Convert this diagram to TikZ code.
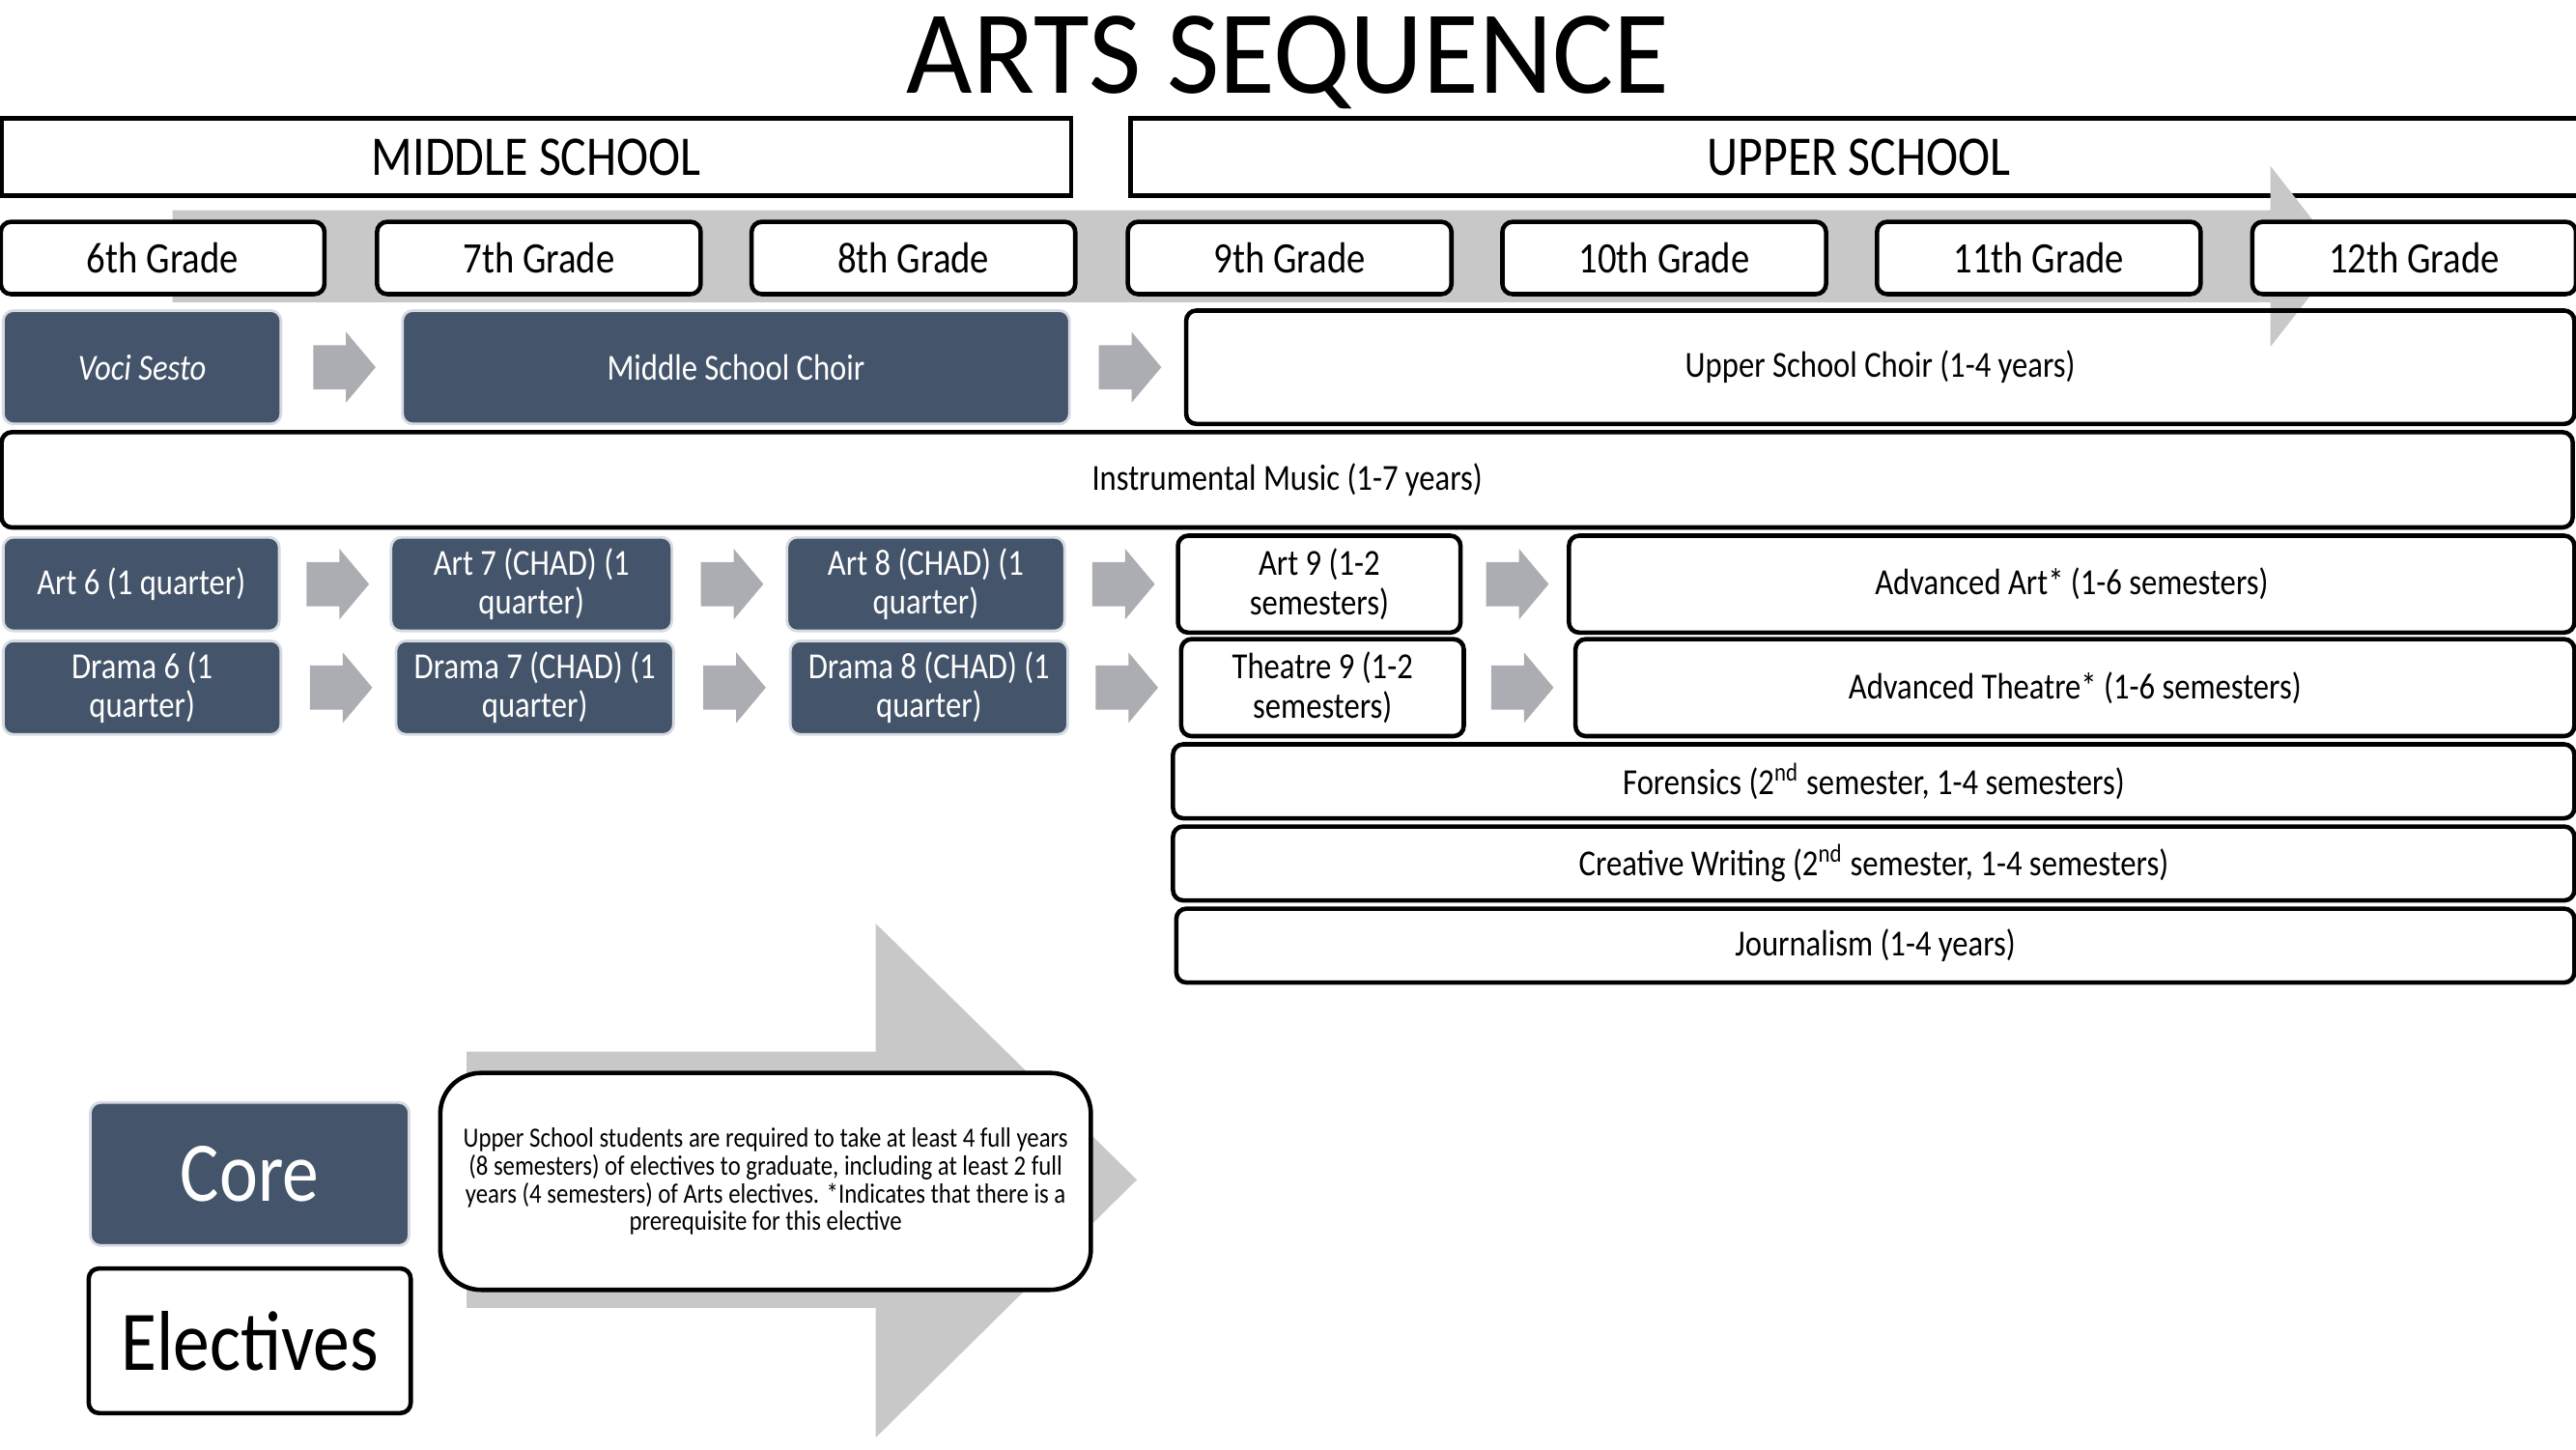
\documentclass[tikz,border=0pt]{standalone}
\usepackage{fontspec}
\setmainfont{Carlito}[FakeStretch=0.86]
\newfontfamily\titlefont{Carlito}[FakeStretch=0.96]
\usepackage{tikz}
\usepackage{xcolor}
\usetikzlibrary{shapes.arrows,calc}
\definecolor{coreblue}{HTML}{44546A}
\definecolor{coreedge}{HTML}{D6DBE3}
\definecolor{chevgray}{HTML}{ABADB2}
\definecolor{biggray}{HTML}{C8C8C8}
\newlength{\px}
\setlength{\px}{0.017cm}

\begin{document}
\begin{tikzpicture}[x=0.017cm, y=-0.017cm,
  header/.style={rectangle, draw, line width=1.3pt, font=\fontsize{16.5}{18}\selectfont, minimum height=47\px},
  grade/.style={rectangle, draw, line width=1.3pt, rounded corners=3pt, fill=white, font=\fontsize{12.8}{14}\selectfont, minimum width=197\px, minimum height=44\px},
  core/.style={rectangle, fill=coreblue, draw=coreedge, line width=0.8pt, rounded corners=3pt, text=white, align=center, inner sep=2pt, font=\fontsize{10.8}{11.5}\selectfont},
  elective/.style={rectangle, draw, line width=1.3pt, rounded corners=3pt, fill=white, align=center, inner sep=2pt, font=\fontsize{10.8}{11.5}\selectfont},
  chevron/.style={single arrow, fill=chevgray, inner xsep=0pt, inner ysep=13\px, minimum width=43\px, minimum height=38\px, single arrow head extend=8\px, single arrow tip angle=100, xshift=-4\px},
]
\useasboundingbox (0,0) rectangle (1568,882);

\node[font=\titlefont\fontsize{35}{40}\selectfont] (title) at (784,38) {ARTS SEQUENCE};
\node[header, minimum width=651\px] (ms) at (326.5,95.5) {MIDDLE SCHOOL};
\node[header, minimum width=887\px] (us) at (1131.5,95.5) {UPPER SCHOOL};

\fill[biggray] (105,128) -- (1382,128) -- (1382,101) -- (1425,156) -- (1382,211) -- (1382,184) -- (105,184) -- cycle;
\fill[biggray] (284,640) -- (533,640) -- (533,562) -- (692,718) -- (533,875) -- (533,796) -- (284,796) -- cycle;

\node[grade] (g6) at (99,157) {6th Grade};
\node[grade] (g7) at (328,157) {7th Grade};
\node[grade] (g8) at (556,157) {8th Grade};
\node[grade] (g9) at (785,157) {9th Grade};
\node[grade] (g10) at (1013,157) {10th Grade};
\node[grade] (g11) at (1241,157) {11th Grade};
\node[grade] (g12) at (1469.5,157) {12th Grade};

\node[core, minimum width=169\px, minimum height=69\px, font=\fontsize{10.8}{11.5}\selectfont\itshape] (voci) at (86.5,223.5) {Voci Sesto};
\node[core, minimum width=406\px, minimum height=69\px] (mschoir) at (448,223.5) {Middle School Choir};
\node[elective, fill=none, minimum width=845\px, minimum height=69\px] (uschoir) at (1144.5,223.5) {Upper School Choir (1-4 years)};
\node[chevron] (v2m) at ($(voci.east)!0.5!(mschoir.west)$) {};
\node[chevron] (m2u) at ($(mschoir.east)!0.5!(uschoir.west)$) {};

\node[elective, minimum width=1565\px, minimum height=58\px] (instr) at (783.5,292) {Instrumental Music (1-7 years)};

\node[core, minimum width=168\px, minimum height=57\px] (art6) at (86,355.5) {Art 6 (1 quarter)};
\node[core, minimum width=171\px, minimum height=57\px] (art7) at (323.5,355.5) {Art 7 (CHAD) (1\\quarter)};
\node[core, minimum width=169\px, minimum height=57\px] (art8) at (563.5,355.5) {Art 8 (CHAD) (1\\quarter)};
\node[elective, minimum width=172\px, minimum height=59\px] (art9) at (803,355.5) {Art 9 (1-2\\semesters)};
\node[elective, minimum width=612\px, minimum height=59\px] (advart) at (1261,355.5) {Advanced Art* (1-6 semesters)};
\node[chevron] (a67) at ($(art6.east)!0.5!(art7.west)$) {};
\node[chevron] (a78) at ($(art7.east)!0.5!(art8.west)$) {};
\node[chevron] (a89) at ($(art8.east)!0.5!(art9.west)$) {};
\node[chevron] (a9adv) at ($(art9.east)!0.5!(advart.west)$) {};

\node[core, minimum width=169\px, minimum height=57\px] (drama6) at (86.5,418.5) {Drama 6 (1\\quarter)};
\node[core, minimum width=169\px, minimum height=57\px] (drama7) at (325.5,418.5) {Drama 7 (CHAD) (1\\quarter)};
\node[core, minimum width=169\px, minimum height=57\px] (drama8) at (565.5,418.5) {Drama 8 (CHAD) (1\\quarter)};
\node[elective, minimum width=172\px, minimum height=59\px] (theatre9) at (805,418.5) {Theatre 9 (1-2\\semesters)};
\node[elective, minimum width=608\px, minimum height=59\px] (advtheatre) at (1263,418.5) {Advanced Theatre* (1-6 semesters)};
\node[chevron] (d67) at ($(drama6.east)!0.5!(drama7.west)$) {};
\node[chevron] (d78) at ($(drama7.east)!0.5!(drama8.west)$) {};
\node[chevron] (d89) at ($(drama8.east)!0.5!(theatre9.west)$) {};
\node[chevron] (t9adv) at ($(theatre9.east)!0.5!(advtheatre.west)$) {};

\node[elective, minimum width=853\px, minimum height=45\px] (forensics) at (1140.5,475.5) {Forensics (2\textsuperscript{nd} semester, 1-4 semesters)};
\node[elective, minimum width=853\px, minimum height=45\px] (writing) at (1140.5,525.5) {Creative Writing (2\textsuperscript{nd} semester, 1-4 semesters)};
\node[elective, minimum width=851\px, minimum height=45\px] (journalism) at (1141.5,575.5) {Journalism (1-4 years)};

\node[elective, rounded corners=12pt, minimum width=396\px, minimum height=132\px, font=\fontsize{8.2}{8.2}\selectfont] (note) at (466,719) {Upper School students are required to take at least 4 full years\\(8 semesters) of electives to graduate, including at least 2 full\\years (4 semesters) of Arts electives. *Indicates that there is a\\prerequisite for this elective};

\node[core, minimum width=194\px, minimum height=87\px, font=\fontsize{25}{28}\selectfont] (corekey) at (152,714.5) {Core};
\node[elective, minimum width=196\px, minimum height=88\px, font=\fontsize{25}{28}\selectfont] (electkey) at (152,816) {Electives};
\end{tikzpicture}
\end{document}
